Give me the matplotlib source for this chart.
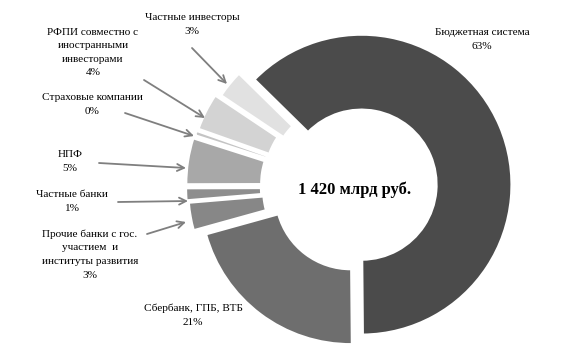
import numpy as np
import matplotlib
matplotlib.use("Agg")
import matplotlib.pyplot as plt

plt.rcParams['font.family'] = ['Liberation Serif', 'DejaVu Serif']

# shares of 1 420 bn rub, clockwise from the budget system
labels = ["Бюджетная система\n63%",
          "Сбербанк, ГПБ, ВТБ\n21%",
          "Прочие банки с гос.\nучастием  и\nинституты развития\n3%",
          "Частные банки\n1%",
          "НПФ\n5%",
          "Страховые компании\n0%",
          "РФПИ совместно с\nиностранными\nинвесторами\n4%",
          "Частные инвесторы\n3%"]
shares = [63, 21, 3, 1.3, 5, 0.5, 4, 3]
colors = ['#4b4b4b', '#6e6e6e', '#878787', '#8e8e8e',
          '#a8a8a8', '#c4c4c4', '#d3d3d3', '#e1e1e1']
total = "1 420 млрд руб."

W, H = 580, 357
fig = plt.figure(figsize=(W / 100, H / 100), dpi=100)
ax = fig.add_axes([0, 0, 1, 1])

cx, cy, R = 356, H - 187, 150
# explode is in data units, here pixels
explode = [6, 9, 18, 20, 20, 19, 18, 13]
ax.pie(shares, colors=colors, explode=explode, startangle=135.5,
       counterclock=False, radius=R, center=(cx, cy),
       wedgeprops=dict(width=R * 0.5, edgecolor='white', linewidth=1.6))
ax.set_xlim(0, W)
ax.set_ylim(0, H)
ax.set_aspect('equal')
ax.axis('off')

ax.text(355, H - 190, total, ha='center', va='center', fontsize=12,
        fontweight='bold')

# label centres (image px) and arrow start/end points
label_pos = [(482, 39.5), (193, 315), (90, 254.5), (72, 201.5),
             (70, 161.5), (92, 104.5), (93, 52.5), (192, 24.5)]
arrows = [None, None,
          ((147, 234), (186, 222)),
          ((118, 202), (188, 201)),
          ((99, 163), (186, 168)),
          ((125, 113), (194, 136)),
          ((144, 80), (205, 118)),
          ((192, 48), (227, 84))]

for lab, (x, y), arr in zip(labels, label_pos, arrows):
    ax.text(x, H - y, lab, ha='center', va='center', fontsize=8.1,
            linespacing=1.65)
    if arr is not None:
        (x0, y0), (x1, y1) = arr
        ax.annotate('', xy=(x1, H - y1), xytext=(x0, H - y0),
                    arrowprops=dict(arrowstyle='->,head_length=0.5,head_width=0.25',
                                    color='#7f7f7f', lw=1.3,
                                    shrinkA=0, shrinkB=0))

fig.savefig('out.png', dpi=100)
